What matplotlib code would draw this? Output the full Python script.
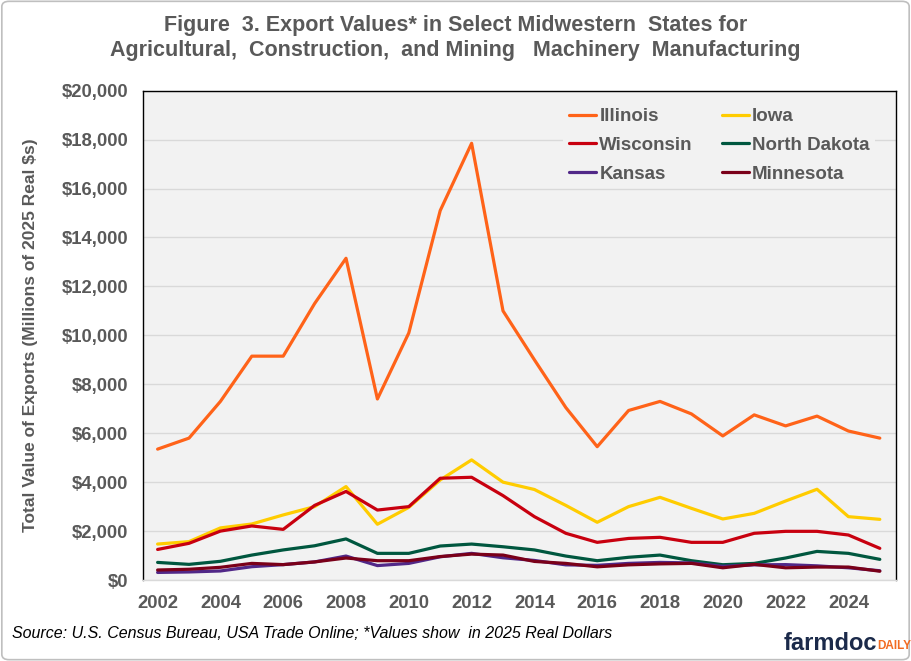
import numpy as np
import matplotlib.pyplot as plt
from matplotlib.patches import FancyBboxPatch
from matplotlib.ticker import FuncFormatter

years = list(range(2002, 2026))

illinois = [5350, 5800, 7300, 9150, 9150, 11300, 13150, 7400, 10100, 15100, 17850, 11000,
            9000, 7050, 5450, 6930, 7300, 6790, 5890, 6750, 6300, 6700, 6090, 5800]
iowa = [1470, 1570, 2130, 2290, 2660, 3000, 3820, 2280, 2970, 4090, 4910, 4000,
        3700, 3050, 2360, 3000, 3380, 2930, 2495, 2725, 3230, 3710, 2590, 2480]
wisconsin = [1250, 1500, 2000, 2210, 2070, 3050, 3620, 2860, 3000, 4160, 4200, 3450,
             2590, 1910, 1540, 1700, 1745, 1540, 1540, 1910, 1990, 1990, 1840, 1295]
north_dakota = [720, 640, 765, 1020, 1230, 1400, 1680, 1090, 1090, 1390, 1470, 1360,
                1230, 980, 790, 930, 1020, 790, 625, 680, 900, 1170, 1090, 845]
kansas = [310, 330, 370, 545, 630, 740, 980, 590, 680, 950, 1090, 910,
          800, 620, 600, 680, 720, 700, 560, 620, 630, 580, 500, 380]
minnesota = [410, 440, 520, 680, 630, 740, 900, 790, 790, 960, 1060, 1020,
             760, 680, 540, 620, 660, 680, 500, 640, 500, 530, 530, 360]

series = [
    ("Illinois", illinois, "#FF6319"),
    ("Iowa", iowa, "#FFCC00"),
    ("Wisconsin", wisconsin, "#C8000F"),
    ("North Dakota", north_dakota, "#00573F"),
    ("Kansas", kansas, "#512888"),
    ("Minnesota", minnesota, "#7A0019"),
]

gray = "#595959"
plt.rcParams['font.family'] = ["Liberation Sans", "DejaVu Sans"]

fig = plt.figure(figsize=(9.11, 6.61), dpi=100)
ax = fig.add_axes([0.1575, 0.1225, 0.8255, 0.7403])
ax.set_facecolor("#F2F2F2")

lines = {}
for name, vals, col in series:
    ln, = ax.plot(years, vals, color=col, lw=2.3, label=name, solid_capstyle='round')
    lines[name] = ln

ax.set_xlim(2001.55, 2025.5)
ax.set_ylim(0, 20000)
ax.set_yticks(np.arange(0, 20001, 2000))
ax.set_xticks(range(2002, 2025, 2))
ax.yaxis.set_major_formatter(FuncFormatter(lambda v, p: "${:,.0f}".format(v)))
ax.grid(axis='y', color="#D9D9D9", lw=1)
ax.set_axisbelow(True)
ax.tick_params(axis='y', length=0, pad=11)
ax.tick_params(axis='x', length=0, pad=11)
for lbl in ax.get_yticklabels() + ax.get_xticklabels():
    lbl.set_fontsize(13.3)
    lbl.set_fontweight('bold')
    lbl.set_color(gray)

for s in ['left', 'top', 'right']:
    ax.spines[s].set_color('black')
    ax.spines[s].set_linewidth(1)
ax.spines['bottom'].set_color("#D9D9D9")
ax.spines['bottom'].set_linewidth(1)

ax.set_ylabel("Total Value of Exports (Millions of 2025 Real $s)", fontsize=12.5,
              fontweight='bold', color=gray)
ax.yaxis.set_label_coords(-0.14, 0.5)

# legend filled row by row, as in the original
leg_order = ["Illinois", "Wisconsin", "Kansas", "Iowa", "North Dakota", "Minnesota"]
leg = ax.legend([lines[n] for n in leg_order], leg_order, ncol=2, loc='upper left',
                bbox_to_anchor=(0.546, 0.995), frameon=True,
                facecolor="#F2F2F2", edgecolor="none", framealpha=1,
                handlelength=1.45, handletextpad=0.16, columnspacing=1.55,
                labelspacing=0.62, borderpad=0.3, prop={'weight': 'bold', 'size': 13.5})
for t in leg.get_texts():
    t.set_color(gray)
for h in leg.get_lines():
    h.set_linewidth(2.3)

fig.text(0.5, 0.962, "Figure  3. Export Values* in Select Midwestern  States for",
         ha='center', va='center', fontsize=15.5, fontweight='bold', color=gray)
fig.text(0.5, 0.923, "Agricultural,  Construction,  and Mining   Machinery  Manufacturing",
         ha='center', va='center', fontsize=15.5, fontweight='bold', color=gray)

fig.text(0.013, 0.042, "Source: U.S. Census Bureau, USA Trade Online; *Values show  in 2025 Real Dollars",
         ha='left', va='center', fontsize=11.5, style='italic', color='black')

fig.text(0.860, 0.026, "farmdoc", ha='left', va='center', fontsize=17,
         fontweight='bold', color="#1B2A4A")
fig.text(0.963, 0.022, "DAILY", ha='left', va='center', fontsize=8.5,
         fontweight='bold', color="#F26B21")

border = FancyBboxPatch((0.002, 0.002), 0.996, 0.996, boxstyle="round,pad=0,rounding_size=0.008",
                        transform=fig.transFigure, fill=False, edgecolor="#BFBFBF", lw=1.2)
fig.patches.append(border)

fig.savefig("out.png", dpi=100, facecolor='white')
